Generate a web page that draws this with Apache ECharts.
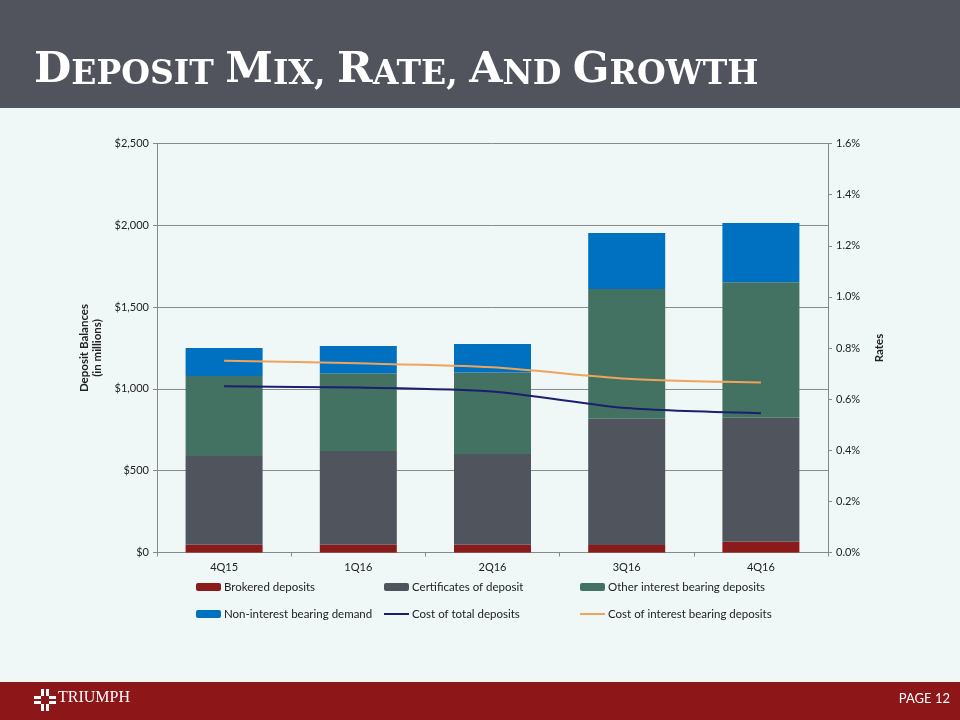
<!DOCTYPE html>
<html><head><meta charset="utf-8">
<script src="https://cdn.jsdelivr.net/npm/echarts@6/dist/echarts.min.js"></script>
<style>html,body{margin:0;padding:0;background:#eff7f7;}#c{width:960px;height:720px;}</style>
</head><body><div id="c"></div>
<script>
const categories = ['4Q15', '1Q16', '2Q16', '3Q16', '4Q16'];
const brokered = [48, 48, 48, 46, 66];
const certificates = [542, 572, 554, 772, 758];
const otherInterest = [489, 475, 499, 793, 828];
const nonInterest = [171, 167, 173, 342, 362];
const costTotal = [0.65, 0.645, 0.63, 0.565, 0.545];
const costInterest = [0.75, 0.74, 0.725, 0.68, 0.665];
const leftTicks = [0, 500, 1000, 1500, 2000, 2500];
const rightTicks = [0, 0.2, 0.4, 0.6, 0.8, 1.0, 1.2, 1.4, 1.6];

const FONT = 'Lato';
const chart = echarts.init(document.getElementById('c'), null, {renderer: 'canvas'});
const barCommon = {type: 'bar', stack: 'dep', barWidth: 77, yAxisIndex: 0};
const lineIcon = 'path://M0,0H25V2H0Z';
const legendCommon = {orient: 'vertical', itemGap: 15, itemWidth: 25, itemHeight: 8, padding: 0,
  textStyle: {fontSize: 11.5, color: '#222', fontFamily: FONT, padding: [0, 0, 0, -2]}};
const option = {
  backgroundColor: '#eff7f7',
  animation: false,
  textStyle: {fontFamily: FONT},
  title: {
    left: 29, top: 42,
    text: '{b|D}{s|EPOSIT }{b|M}{s|IX, }{b|R}{s|ATE, }{b|A}{s|ND }{b|G}{s|ROWTH}',
    textStyle: {
      rich: {
        b: {fontFamily: 'DejaVu Serif', fontWeight: 'bold', fontSize: 43, color: '#ffffff', lineHeight: 45, verticalAlign: 'bottom'},
        s: {fontFamily: 'DejaVu Serif', fontWeight: 'bold', fontSize: 33, color: '#ffffff', lineHeight: 38, verticalAlign: 'bottom'}
      }
    }
  },
  graphic: [
    {type: 'rect', left: 0, top: 0, z: -1, shape: {width: 960, height: 108}, style: {fill: '#51545d'}},
    {type: 'rect', left: 0, top: 682, z: -1, shape: {width: 960, height: 38}, style: {fill: '#8c1618'}},
    {type: 'group', left: 34, top: 689, children: [
      {type: 'rect', shape: {x: 7, y: 0, width: 3, height: 22}, style: {fill: '#fff'}},
      {type: 'rect', shape: {x: 12, y: 0, width: 3, height: 22}, style: {fill: '#fff'}},
      {type: 'rect', shape: {x: 0, y: 7, width: 22, height: 3}, style: {fill: '#fff'}},
      {type: 'rect', shape: {x: 0, y: 12, width: 22, height: 3}, style: {fill: '#fff'}},
      {type: 'rect', shape: {x: 7, y: 7, width: 8, height: 8}, style: {fill: '#8c1618'}}
    ]},
    {type: 'text', left: 58, top: 690, style: {text: 'TRIUMPH', fill: '#fff', font: '16px "Liberation Serif"'}},
    {type: 'text', right: 10, top: 692, style: {text: 'PAGE 12', fill: '#fff', font: '13px Lato'}}
  ],
  grid: {left: 157, right: 132, top: 143.5, bottom: 167.5, containLabel: false},
  legend: [
    Object.assign({left: 196, top: 581, data: ['Brokered deposits', 'Non-interest bearing demand']}, legendCommon),
    Object.assign({left: 384, top: 581, data: ['Certificates of deposit', {name: 'Cost of total deposits', icon: lineIcon}]}, legendCommon),
    Object.assign({left: 580, top: 581, data: ['Other interest bearing deposits', {name: 'Cost of interest bearing deposits', icon: lineIcon}]}, legendCommon)
  ],
  xAxis: {
    type: 'category', data: categories,
    axisLine: {lineStyle: {color: '#888', width: 1}},
    axisTick: {show: true, length: 4, lineStyle: {color: '#888'}},
    axisLabel: {fontSize: 11, color: '#222', margin: 9, fontFamily: FONT}
  },
  yAxis: [
    {
      type: 'value', min: leftTicks[0], max: leftTicks[leftTicks.length - 1], interval: 500,
      name: 'Deposit Balances\n(in millions)', nameLocation: 'middle', nameRotate: 90, nameGap: 52,
      nameTextStyle: {fontSize: 11.5, fontWeight: 'bold', color: '#222', lineHeight: 13, fontFamily: FONT},
      axisLine: {show: true, lineStyle: {color: '#888'}},
      axisTick: {show: true, length: 4, lineStyle: {color: '#888'}},
      splitLine: {show: true, lineStyle: {color: '#8a8a8a', width: 1}},
      axisLabel: {fontSize: 11, color: '#222', margin: 8, fontFamily: FONT,
        formatter: v => '$' + v.toLocaleString('en-US')}
    },
    {
      type: 'value', min: rightTicks[0], max: rightTicks[rightTicks.length - 1], interval: 0.2,
      position: 'right',
      name: 'Rates', nameLocation: 'middle', nameRotate: 90, nameGap: 45,
      nameTextStyle: {fontSize: 11.5, fontWeight: 'bold', color: '#222', fontFamily: FONT},
      axisLine: {show: true, lineStyle: {color: '#888'}},
      axisTick: {show: true, length: 4, lineStyle: {color: '#888'}},
      splitLine: {show: false},
      axisLabel: {fontSize: 11, color: '#222', margin: 8, fontFamily: FONT,
        formatter: v => v.toFixed(1) + '%'}
    }
  ],
  series: [
    Object.assign({name: 'Brokered deposits', data: brokered, itemStyle: {color: '#8b1a1a'}}, barCommon),
    Object.assign({name: 'Certificates of deposit', data: certificates, itemStyle: {color: '#50545c'}}, barCommon),
    Object.assign({name: 'Other interest bearing deposits', data: otherInterest, itemStyle: {color: '#437262'}}, barCommon),
    Object.assign({name: 'Non-interest bearing demand', data: nonInterest, itemStyle: {color: '#0070c0'}}, barCommon),
    {name: 'Cost of total deposits', type: 'line', yAxisIndex: 1, data: costTotal, smooth: 0.25,
     symbol: 'none', lineStyle: {color: '#1b1f6e', width: 2}, itemStyle: {color: '#1b1f6e'}, z: 5},
    {name: 'Cost of interest bearing deposits', type: 'line', yAxisIndex: 1, data: costInterest, smooth: 0.25,
     symbol: 'none', lineStyle: {color: '#f0a35a', width: 2}, itemStyle: {color: '#f0a35a'}, z: 5}
  ]
};
chart.setOption(option);
</script></body></html>
